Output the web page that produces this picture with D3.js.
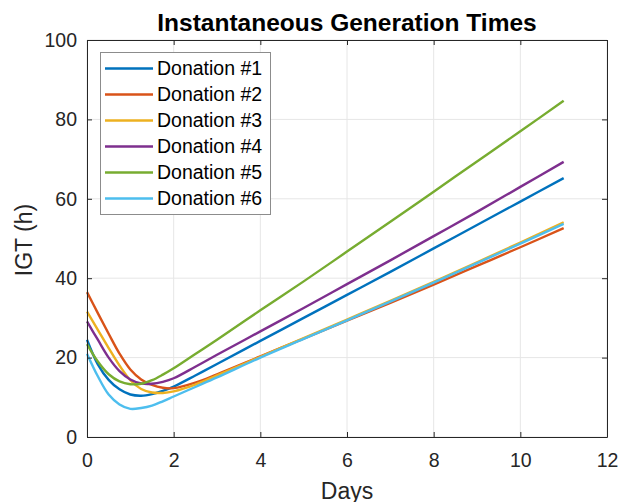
<!DOCTYPE html>
<html>
<head>
<meta charset="utf-8">
<style>
       body {
              margin: 0;
              background: white;
              font-family: "Liberation Sans", Arial, Helvetica, sans-serif;
       }
       .tick text {
              font-size: 19.5px;
              fill: #262626;
       }
       .title {
              font-weight: bold;
              font-size: 24.5px;
              text-anchor: middle;
              fill: black;
       }
       .axis-label {
              font-size: 23px;
              text-anchor: middle;
              fill: #262626;
       }
       .legend-label {
              font-size: 19.5px;
              fill: black;
       }
</style>
</head>
<body>
<script src="https://cdn.jsdelivr.net/npm/d3@7"></script>
<script>

    var days = [0, 0.25, 0.5, 0.75, 1, 1.25, 1.5, 1.75, 2, 2.5, 3, 4, 5, 6, 7, 8, 9, 10, 11];

    var donation1 = [24.5, 18.3, 14.4, 12.0, 10.7, 10.4, 10.8, 11.6, 12.7, 15.5, 18.4, 24.2, 30.0, 35.8, 41.6, 47.5, 53.4, 59.3, 65.2],
        donation2 = [36.5, 31.2, 26.0, 21.0, 17.0, 14.5, 13.1, 12.4, 12.3, 13.7, 15.8, 20.3, 24.8, 29.3, 33.8, 38.4, 43.1, 47.8, 52.6],
        donation3 = [31.6, 27.0, 22.4, 18.0, 14.3, 12.1, 11.2, 11.1, 11.5, 13.2, 15.5, 20.2, 24.9, 29.6, 34.3, 39.1, 44.0, 49.0, 54.1],
        donation4 = [29.1, 24.5, 20.0, 16.6, 14.5, 13.5, 13.4, 13.9, 14.8, 17.7, 20.7, 26.6, 32.5, 38.5, 44.5, 50.6, 56.7, 63.0, 69.3],
        donation5 = [23.4, 19.0, 15.8, 14.0, 13.3, 13.4, 14.3, 15.7, 17.3, 20.9, 24.5, 31.9, 39.2, 46.7, 54.2, 61.8, 69.4, 77.0, 84.7],
        donation6 = [21.0, 15.3, 10.7, 8.2, 7.1, 7.3, 7.9, 9.0, 10.2, 12.6, 15.0, 20.0, 24.7, 29.4, 34.1, 38.9, 43.8, 48.7, 53.7];

    var seriesNames = ["Donation #1", "Donation #2", "Donation #3", "Donation #4", "Donation #5", "Donation #6"],
        seriesValues = [donation1, donation2, donation3, donation4, donation5, donation6],
        seriesColors = ["#0072BD", "#D95319", "#EDB120", "#7E2F8E", "#77AC30", "#4DBEEE"];

    var xTicks = [0, 2, 4, 6, 8, 10, 12],
        yTicks = [0, 20, 40, 60, 80, 100];

    var width = 620,
        height = 502,
        plotLeft = 87,
        plotRight = 607,
        plotTop = 40,
        plotBottom = 437,
        tickLen = 5;

    var svg = d3.select("body").append("svg")
        .attr("width", width)
        .attr("height", height);

    var x = d3.scaleLinear().domain([0, 12]).range([plotLeft, plotRight]);
    var y = d3.scaleLinear().domain([0, 100]).range([plotBottom, plotTop]);

    // grid
    var grid = svg.append("g").attr("stroke", "#e6e6e6").attr("stroke-width", 1);
    grid.selectAll(".gx")
        .data(xTicks)
      .enter().append("line")
        .attr("x1", function(d) { return x(d); })
        .attr("x2", function(d) { return x(d); })
        .attr("y1", plotTop)
        .attr("y2", plotBottom);
    grid.selectAll(".gy")
        .data(yTicks)
      .enter().append("line")
        .attr("x1", plotLeft)
        .attr("x2", plotRight)
        .attr("y1", function(d) { return y(d); })
        .attr("y2", function(d) { return y(d); });

    // curves
    var line = d3.line()
        .x(function(d, i) { return x(days[i]); })
        .y(function(d) { return y(d); })
        .curve(d3.curveCatmullRom.alpha(0.5));

    svg.append("g").selectAll("path")
        .data(seriesValues)
      .enter().append("path")
        .attr("fill", "none")
        .attr("stroke", function(d, i) { return seriesColors[i]; })
        .attr("stroke-width", 2.4)
        .attr("d", line);

    // axes, box style with inward ticks
    var axisColor = "#262626";

    var xAxis = svg.append("g")
        .attr("transform", "translate(0," + plotBottom + ")")
        .call(d3.axisBottom(x).tickValues(xTicks).tickSizeInner(-tickLen).tickSizeOuter(0).tickPadding(16));
    var yAxis = svg.append("g")
        .attr("transform", "translate(" + plotLeft + ",0)")
        .call(d3.axisLeft(y).tickValues(yTicks).tickSizeInner(-tickLen).tickSizeOuter(0).tickPadding(10));
    var xTop = svg.append("g")
        .attr("transform", "translate(0," + plotTop + ")")
        .call(d3.axisTop(x).tickValues(xTicks).tickSizeInner(-tickLen).tickSizeOuter(0).tickFormat(""));
    var yRight = svg.append("g")
        .attr("transform", "translate(" + plotRight + ",0)")
        .call(d3.axisRight(y).tickValues(yTicks).tickSizeInner(-tickLen).tickSizeOuter(0).tickFormat(""));

    [xAxis, yAxis, xTop, yRight].forEach(function(a) {
        a.attr("font-family", null).attr("font-size", null);
        a.selectAll("line, path").attr("stroke", axisColor);
        a.selectAll("text").attr("fill", axisColor);
    });

    // title and labels
    svg.append("text")
        .attr("class", "title")
        .attr("x", (plotLeft + plotRight) / 2)
        .attr("y", 31)
        .text("Instantaneous Generation Times");

    svg.append("text")
        .attr("class", "axis-label")
        .attr("x", (plotLeft + plotRight) / 2)
        .attr("y", 499)
        .text("Days");

    svg.append("text")
        .attr("class", "axis-label")
        .attr("transform", "translate(32,240) rotate(-90)")
        .text("IGT (h)");

    // legend
    var legend = svg.append("g");
    legend.append("rect")
        .attr("x", 100.5)
        .attr("y", 52.5)
        .attr("width", 170)
        .attr("height", 162)
        .attr("fill", "white")
        .attr("stroke", "#8c8c8c")
        .attr("stroke-width", 1);

    var rowY = d3.scaleLinear().domain([0, 5]).range([68.5, 198.5]);

    legend.selectAll("line")
        .data(seriesNames)
      .enter().append("line")
        .attr("x1", 105)
        .attr("x2", 153)
        .attr("y1", function(d, i) { return rowY(i); })
        .attr("y2", function(d, i) { return rowY(i); })
        .attr("stroke", function(d, i) { return seriesColors[i]; })
        .attr("stroke-width", 2.4);

    legend.selectAll("text")
        .data(seriesNames)
      .enter().append("text")
        .attr("class", "legend-label")
        .attr("x", 157)
        .attr("y", function(d, i) { return rowY(i); })
        .attr("dy", "0.35em")
        .text(function(d) { return d; });

</script>
</body>
</html>
